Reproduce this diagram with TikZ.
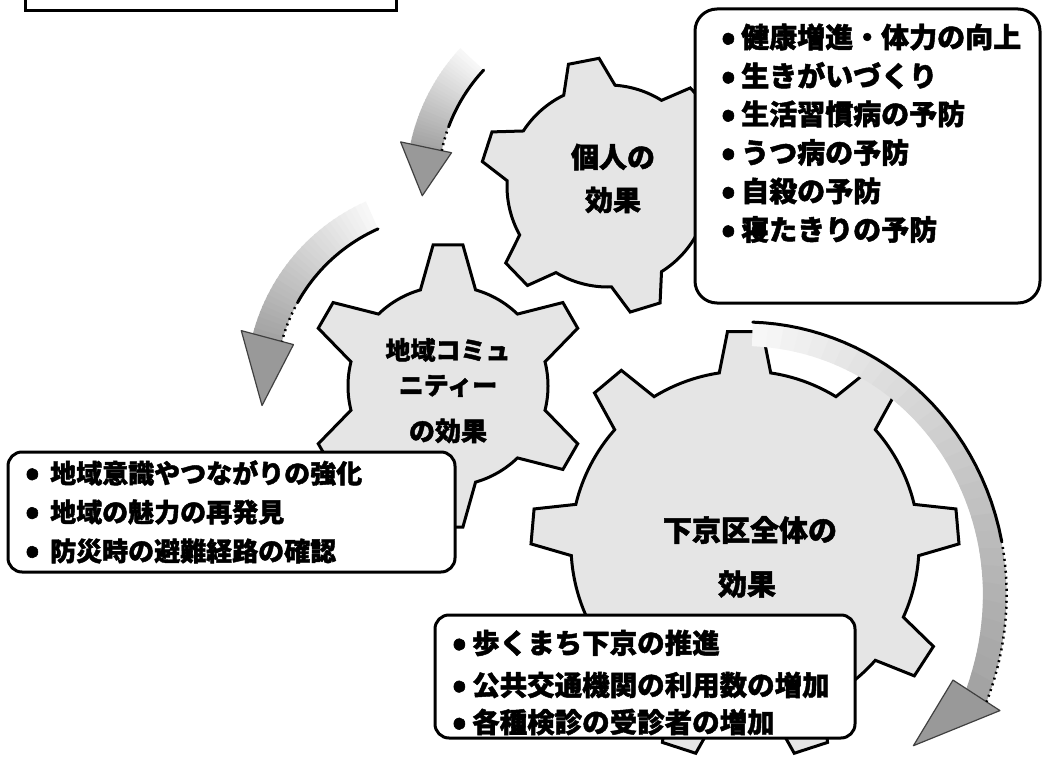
\documentclass[tikz,border=0pt]{standalone}
\usepackage{fontspec}
\newfontfamily\jp{Noto Sans CJK JP}[BoldFeatures={FakeBold=1.6}]
\newcommand\bul[1]{\makebox[#1][l]{\raisebox{-2pt}{\fontsize{36}{30}\selectfont•}}}
\tikzset{
  gearline/.style={draw=black, line width=3pt, fill=black!10, line join=miter},
  boxline/.style={draw=black, line width=3pt, fill=white, rounded corners=14pt},
  itemtext/.style={anchor=west, inner sep=0pt, font=\jp\bfseries\fontsize{26}{30}\selectfont},
  geartext/.style={inner sep=0pt, font=\jp\bfseries\fontsize{28}{30}\selectfont},
  edgeline/.style={line width=3pt, black, line cap=round},
  dotline/.style={line width=2.5pt, black, dash pattern=on 2pt off 4pt},
  headfill/.style={fill=black!40, draw=black!75, line width=1.2pt, line join=round},
}
% radius profiles of the three curved arrows (t from 0 at the tail to 1 at the head)
\pgfmathdeclarefunction{rA}{1}{\pgfmathparse{170}}
\pgfmathdeclarefunction{rB}{1}{\pgfmathparse{172}}
\pgfmathdeclarefunction{rC}{1}{\pgfmathparse{223+65*(#1)^2}}
% gear: #1 center, #2 root r, #3 tip r, #4 root half angle, #5 tip half angle, #6 angle pairs, #7 first angle
\newcommand\drawgear[7]{%
  \draw[gearline, shift={#1}] (#7-#4:#2pt)
    \foreach \a/\n in {#6} { -- (\a-#5:#3pt) -- (\a+#5:#3pt) -- (\a+#4:#2pt)
      arc[start angle=\a+#4, end angle=\n-#4, radius=#2pt] } -- cycle;
}
% arrow: #1 center, #2 radius function, #3 tail angle, #4 head base angle, #5 tip angle,
%        #6 band width (signed), #7 head extra (signed like #6), #8 tip radius
\newcommand\gradarrow[8]{%
  \begin{scope}[shift={#1}]
  \foreach \i in {0,...,29}{
    \pgfmathsetmacro\ta{\i/30}
    \pgfmathsetmacro\tb{min(1,(\i+1.3)/30)}
    \pgfmathsetmacro\sa{#3+(#4-#3)*\ta}
    \pgfmathsetmacro\sb{#3+(#4-#3)*\tb}
    \pgfmathsetmacro\ra{#2(\ta)}
    \pgfmathsetmacro\rb{#2(\tb)}
    \pgfmathsetmacro\g{3+34*\ta}
    \fill[black!\g] (\sa:\ra pt) -- (\sb:\rb pt) -- (\sb:\rb pt+#6pt) -- (\sa:\ra pt+#6pt) -- cycle;
  }
  \pgfmathsetmacro\re{#2(1)}
  \fill[headfill] (#4:\re pt-#7pt) -- (#4:\re pt+#6pt+#7pt) -- (#5:#8pt) -- cycle;
  \pgfmathsetmacro\amid{#3+0.72*(#4-#3)}
  \draw[edgeline] plot[domain=#3:\amid, samples=30] (\x:{#2((\x-#3)/(#4-#3))*1pt});
  \draw[dotline] plot[domain=\amid:#4, samples=20] (\x:{#2((\x-#3)/(#4-#3))*1pt});
  \end{scope}
}
\begin{document}
\begin{tikzpicture}[x=1pt,y=-1pt]
\useasboundingbox (0,0) rectangle (1042,765);
\fill[white] (0,0) rectangle (1042,765);
\clip (0,0) rectangle (1042,765);

% top-left box (cut by the top border)
\node[draw=black, line width=3pt, minimum width=371pt, minimum height=31pt, inner sep=0pt] (boxT) at (210.5,-4.5) {};

% gears
\drawgear{(608,186)}{101}{128}{15}{7}{43/101,101/162,162/224,224/287,287/345,345/403}{43}
\drawgear{(448,386)}{100}{142}{16}{6}{30/90,90/150,150/210,210/270,270/330,330/390}{30}
\drawgear{(745,545)}{174}{214}{8.5}{4.7}{-108/-72,-72/-33,-33/5,5/50,50/90,90/130,130/175,175/213,213/252}{-108}

% gear texts
\node[geartext] (g1a) at (613,157) {個人の};
\node[geartext] (g1b) at (613,200) {効果};
\node[geartext, font=\jp\bfseries\fontsize{25}{30}\selectfont] (g2a) at (448,350) {地域コミュ};
\node[geartext, font=\jp\bfseries\fontsize{25}{30}\selectfont] (g2b) at (448,386) {ニティー};
\node[geartext, font=\jp\bfseries\fontsize{26}{30}\selectfont] (g2c) at (448,431) {の効果};
\node[geartext, font=\jp\bfseries\fontsize{29}{30}\selectfont] (g3a) at (750,530) {下京区全体の};
\node[geartext, font=\jp\bfseries\fontsize{29}{30}\selectfont] (g3b) at (747,584) {効果};

% boxes
\node[boxline, rounded corners=22pt, minimum width=345pt, minimum height=294pt] (boxR) at (867.5,156) {};
\node[boxline, minimum width=447pt, minimum height=120pt] (boxL) at (231.5,512) {};
\node[boxline, minimum width=420pt, minimum height=123pt] (boxB) at (645,676.5) {};

% arrows
\gradarrow{(608,186)}{rA}{137}{168}{183}{32}{10}{186}
\gradarrow{(448,386)}{rB}{114}{165}{186}{30}{12}{187}
\gradarrow{(745,545)}{rC}{88}{-33}{-50}{-24}{-16}{262}

% right box items
\begin{scope}[every node/.style={itemtext, font=\jp\bfseries\fontsize{28}{30}\selectfont}]
\node (r1) at (721,37) {\bul{20pt}健康増進・体力の向上};
\node (r2) at (721,75.5) {\bul{20pt}生きがいづくり};
\node (r3) at (721,114) {\bul{20pt}生活習慣病の予防};
\node (r4) at (721,152.5) {\bul{20pt}うつ病の予防};
\node (r5) at (721,191) {\bul{20pt}自殺の予防};
\node (r6) at (721,229.5) {\bul{20pt}寝たきりの予防};
\end{scope}

% left box items
\node[itemtext] (l1) at (25,473) {\bul{25pt}地域意識やつながりの強化};
\node[itemtext] (l2) at (25,512) {\bul{25pt}地域の魅力の再発見};
\node[itemtext] (l3) at (25,551) {\bul{25pt}防災時の避難経路の確認};

% bottom box items
\begin{scope}[every node/.style={itemtext, font=\jp\bfseries\fontsize{27.5}{30}\selectfont}]
\node (b1) at (452,643) {\bul{20pt}歩くまち下京の推進};
\node (b2) at (452,685) {\bul{20pt}公共交通機関の利用数の増加};
\node (b3) at (452,722) {\bul{20pt}各種検診の受診者の増加};
\end{scope}
\end{tikzpicture}
\end{document}
